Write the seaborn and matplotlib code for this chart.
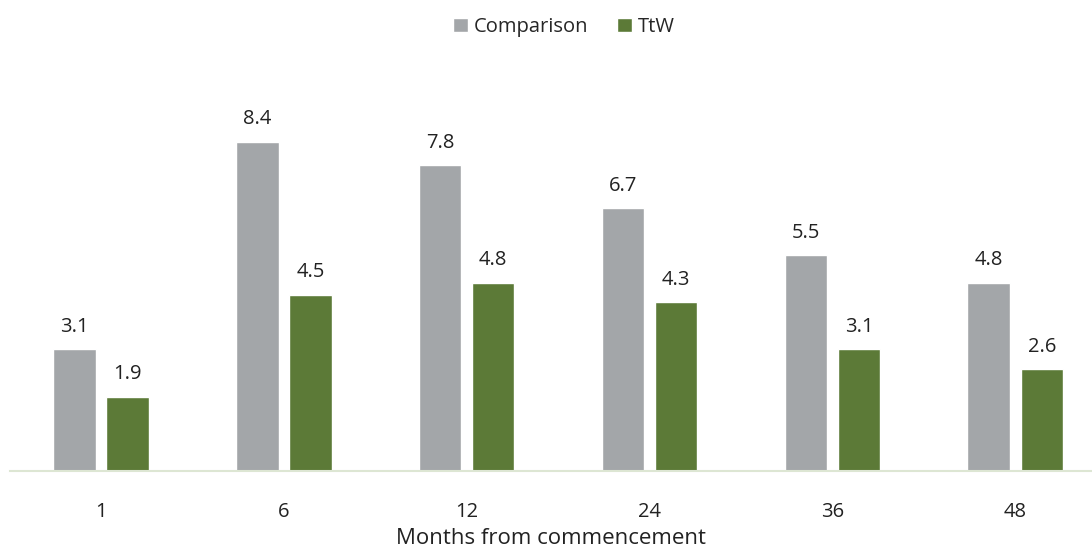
import matplotlib
matplotlib.use("Agg")
import matplotlib.pyplot as plt
import seaborn as sns
import pandas as pd

months = ["1", "6", "12", "24", "36", "48"]
comparison = [3.1, 8.4, 7.8, 6.7, 5.5, 4.8]
ttw = [1.9, 4.5, 4.8, 4.3, 3.1, 2.6]
series_names = ["Comparison", "TtW"]
colors = ["#A3A6A9", "#5C7A37"]

df = pd.DataFrame({
    "month": months * 2,
    "value": comparison + ttw,
    "series": [series_names[0]] * len(months) + [series_names[1]] * len(months),
})

sns.set_theme(style="white")
plt.rcParams["font.family"] = ["Open Sans", "DejaVu Sans"]

fig = plt.figure(figsize=(10.92, 5.52), dpi=100)
ax = fig.add_axes([10 / 1092, 81 / 552, 1082 / 1092, 390 / 552])

sns.barplot(data=df, x="month", y="value", hue="series", order=months,
            hue_order=series_names, palette=colors, width=0.58, gap=0.2,
            saturation=1, ax=ax, legend=True)

for container in ax.containers:
    ax.bar_label(container, fmt="%.1f", padding=9, fontsize=14.5, color="#222222")

ax.set_xlim(-0.498, 5.42)
ax.set_ylim(0, 9.95)
ax.set_yticks([])
ax.set_ylabel("")
ax.set_xlabel("Months from commencement", fontsize=16, color="#222222", labelpad=5)
ax.tick_params(axis="x", labelsize=14.5, colors="#222222", length=0, pad=22)
for side in ["top", "right", "left"]:
    ax.spines[side].set_visible(False)
ax.spines["bottom"].set_color("#DDE6D3")
ax.spines["bottom"].set_linewidth(1.5)

handles, labels = ax.get_legend_handles_labels()
leg = ax.legend(handles, labels, loc="center", ncol=2, frameon=False,
                fontsize=14.5, handlelength=0.75, handleheight=0.75,
                columnspacing=1.4, handletextpad=0.3)
leg.set_bbox_to_anchor((564 / 1092, 1 - 27 / 552), transform=fig.transFigure)

fig.savefig("out.png", dpi=100)
